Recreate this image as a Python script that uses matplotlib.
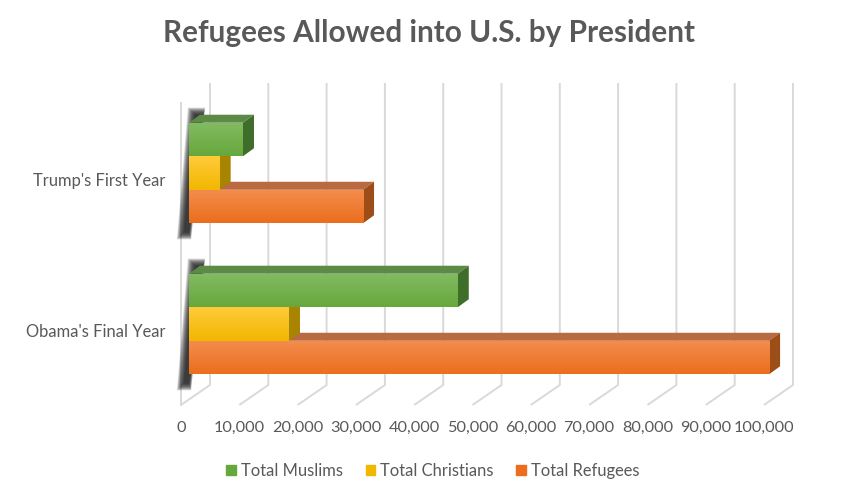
import numpy as np
import matplotlib
matplotlib.use("Agg")
import matplotlib.pyplot as plt
from matplotlib.patches import Polygon, Patch

# data
categories = ["Obama's Final Year", "Trump's First Year"]
series = ["Total Muslims", "Total Christians", "Total Refugees"]
muslims = [46100, 9260]
christians = [17150, 5260]
refugees = [99500, 29850]
ticks = list(range(0, 100001, 10000))
tick_labels = ["0"] + [f"{t:,}" for t in ticks[1:]]

# face colours: front top, front bottom, top face, side face
styles = {
    "Total Muslims": ("#82bb62", "#67a83c", "#5e8a48", "#3f6d2a"),
    "Total Christians": ("#ffcb3a", "#f2b700", "#b08a00", "#a88400"),
    "Total Refugees": ("#f58d4e", "#ea6e1d", "#b96a40", "#9c4d18"),
}
text_col = "#595959"
grid_col = "#d9d9d9"

W, H = 862, 498
fig = plt.figure(figsize=(W / 100, H / 100), dpi=100)
plt.rcParams["font.family"] = ["Lato", "DejaVu Sans"]

# axes placed in pixels; scale 58.3 px per 10,000, 151 px per category
left_px, right_px, top_px, bot_px = 150, 810, 75, 410
zero_px, px_per_unit = 189, 58.3 / 10000
cat0_px, px_per_cat = 324, 151
ax = fig.add_axes([left_px / W, 1 - bot_px / H, (right_px - left_px) / W, (bot_px - top_px) / H])
ax.axis("off")

def dx(px):
    return px / px_per_unit

def dy(px):
    return px / px_per_cat

# walls: back plane and front edge relative to the bar plane
back = (dx(21), dy(14.5))
front = (dx(-8), dy(-5.5))
floor, ceil = -0.5, 1.5
for t in ticks:
    bx, by = t + back[0], back[1]
    ax.plot([bx, bx, t + front[0]], [ceil + by, floor + by, floor + front[1]],
            color=grid_col, lw=1.4, zorder=1, solid_capstyle="butt")
ax.plot([front[0], front[0]], [floor + front[1], ceil + front[1]], color=grid_col, lw=1.4, zorder=1)

h = 0.222
offsets = {"Total Muslims": h, "Total Christians": 0.0, "Total Refugees": -h}
values = {"Total Muslims": muslims, "Total Christians": christians, "Total Refugees": refugees}
depth = (dx(11), dy(8))

# blurred dark left-end shadow for each group
for i in range(len(categories)):
    top = i + 1.5 * h
    bot = i - 1.5 * h
    for k in range(14):
        g = k * 0.55
        sx, sy = dx(-5), dy(-4)
        pts = [(sx - dx(g), bot + sy - dy(g + 5)), (dx(g * 0.3), bot + sy - dy(g + 5)),
               (depth[0] + dx(3 + g * 0.3), top + depth[1] + dy(g)),
               (sx + depth[0] - dx(g), top + depth[1] + dy(g))]
        ax.add_patch(Polygon(pts, closed=True, fc="#1e1e1e", ec="none", alpha=0.13, zorder=2))

grad = np.linspace(0, 1, 64)[:, None]
for i in range(len(categories)):
    for name in ["Total Refugees", "Total Christians", "Total Muslims"]:
        v = values[name][i]
        c_top, c_bot, c_lid, c_side = styles[name]
        y0 = i + offsets[name] - h / 2
        y1 = y0 + h
        z = 3 + (2 - list(offsets).index(name)) * 0.1 + i
        # top face
        ax.add_patch(Polygon([(0, y1), (v, y1), (v + depth[0], y1 + depth[1]), (depth[0], y1 + depth[1])],
                             closed=True, fc=c_lid, ec="none", zorder=z))
        # side face
        ax.add_patch(Polygon([(v, y0), (v + depth[0], y0 + depth[1]), (v + depth[0], y1 + depth[1]), (v, y1)],
                             closed=True, fc=c_side, ec="none", zorder=z))
        # front face with vertical gradient
        bars = ax.barh(i + offsets[name], v, height=h, color=c_top, label=name, zorder=z)
        rgb_top = np.array(matplotlib.colors.to_rgb(c_top))
        rgb_bot = np.array(matplotlib.colors.to_rgb(c_bot))
        img = (rgb_top * (1 - grad) + rgb_bot * grad).reshape(64, 1, 3)
        im = ax.imshow(img, extent=(0, v, y0, y1), origin="upper", aspect="auto",
                       interpolation="bilinear", zorder=z + 0.01)
        im.set_clip_path(bars.patches[0])

ax.set_xlim((left_px - zero_px) / px_per_unit, (right_px - zero_px) / px_per_unit)
ax.set_ylim((cat0_px - bot_px) / px_per_cat, (cat0_px - top_px) / px_per_cat)

# tick labels along the front edge
for t, lab in zip(ticks, tick_labels):
    ax.text(t + front[0], floor + front[1] - dy(23), lab, ha="center", va="center",
            fontsize=11.7, color=text_col, clip_on=False)

# category labels
for i, cat in enumerate(categories):
    ax.text(dx(165 - zero_px), i + dy(-8), cat, ha="right", va="center",
            fontsize=11.9, color=text_col, clip_on=False)

fig.text(429 / W, 1 - 33 / H, "Refugees Allowed into U.S. by President", ha="center", va="center",
         fontsize=21.4, fontweight="bold", color=text_col)

leg_handles = [Patch(color=styles[n][1]) for n in series]
fig.legend(leg_handles, series, loc="center", bbox_to_anchor=(433 / W, 1 - 471 / H), ncol=3,
           frameon=False, handlelength=0.6, handleheight=0.6, handletextpad=0.3,
           columnspacing=1.35, fontsize=11.9, labelcolor=text_col)

fig.savefig("out.png", dpi=100)
